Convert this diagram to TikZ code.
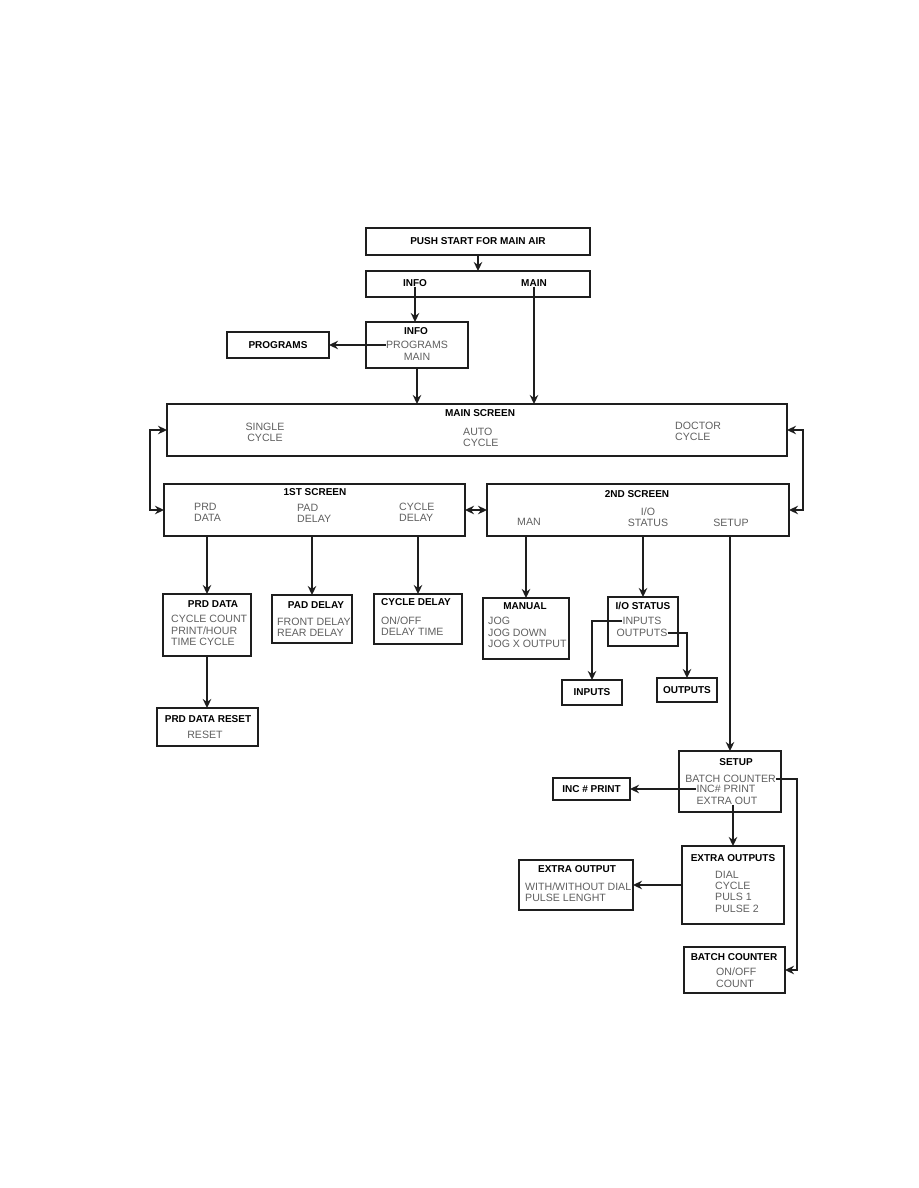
\documentclass[tikz,border=0pt]{standalone}
\usepackage{fontspec}
\setsansfont{Liberation Sans}
\usepackage{xcolor}
\usetikzlibrary{arrows.meta,positioning,calc}
\definecolor{boxline}{RGB}{30,30,30}
\definecolor{itemgray}{RGB}{95,95,95}

\tikzset{
  box/.style={rectangle, draw=boxline, line width=1.4pt, inner sep=0pt, outer sep=0pt},
  head/.style={font=\sffamily\bfseries, text=black, inner sep=0pt},
  item/.style={text=itemgray, inner sep=0pt, align=left},
  link/.style={-{Stealth[length=9pt,width=8.5pt]}, line width=1.4pt, draw=boxline},
  dlink/.style={{Stealth[length=9pt,width=8.5pt]}-{Stealth[length=9pt,width=8.5pt]}, line width=1.4pt, draw=boxline}
}

\begin{document}
\begin{tikzpicture}[x=1pt, y=-1pt, font=\sffamily\fontsize{10.6}{11.4}\selectfont]
        \useasboundingbox (0,0) rectangle (918,1188);

        % top: start and choice
        \node[box, head, minimum width=224, minimum height=27] (push) at (478,241.5) {PUSH START FOR MAIN AIR};
        \node[box, minimum width=224, minimum height=26] (choose) at (478,284) {};
        \node[head] (infolbl) at (415,283) {INFO};
        \node[head] (mainlbl) at (534,283) {MAIN};

        % info menu
        \node[box, minimum width=102, minimum height=46] (infobox) at (417,345) {};
        \node[head] (infotitle) at (416,331) {INFO};
        \node[item] (progitem) at (417,345) {PROGRAMS};
        \node[item] (mainitem) at (417,357) {MAIN};
        \node[box, head, minimum width=102, minimum height=26] (programs) at (278,345) {PROGRAMS};

        % main screen
        \node[box, minimum width=620, minimum height=52] (mainscr) at (477,430) {};
        \node[head] (maintitle) at (480,413) {MAIN SCREEN};
        \node[item, align=center] (single) at (265,432.5) {SINGLE\\CYCLE};
        \node[item, anchor=west] (auto) at (463,437.5) {AUTO\\CYCLE};
        \node[item, anchor=west] (doctor) at (675,431.5) {DOCTOR\\CYCLE};

        % 1st screen
        \node[box, minimum width=301, minimum height=52] (first) at (314.5,510) {};
        \node[head] (firsttitle) at (315,492) {1ST SCREEN};
        \node[item, anchor=west] (prdlbl) at (194,512.5) {PRD\\DATA};
        \node[item, anchor=west] (padlbl) at (297,513.5) {PAD\\DELAY};
        \node[item, anchor=west] (cyclbl) at (399,512) {CYCLE\\DELAY};

        % 2nd screen
        \node[box, minimum width=302, minimum height=52] (second) at (638,510) {};
        \node[head] (secondtitle) at (637,494) {2ND SCREEN};
        \node[item] (manlbl) at (529,522) {MAN};
        \node[item, align=center] (iolbl) at (648,517.5) {I/O\\STATUS};
        \node[item] (setuplbl) at (731,523) {SETUP};

        % 1st screen sub menus
        \node[box, minimum width=88, minimum height=62] (prdbox) at (207,625) {};
        \node[head] (prdtitle) at (213,604) {PRD DATA};
        \node[item, anchor=west] (prditems) at (171,630.5) {CYCLE COUNT\\PRINT/HOUR\\TIME CYCLE};
        \node[box, minimum width=80, minimum height=48] (padbox) at (312,619) {};
        \node[head] (padtitle) at (316,605) {PAD DELAY};
        \node[item, anchor=west] (paditems) at (277,627) {FRONT DELAY\\REAR DELAY};
        \node[box, minimum width=88, minimum height=50] (cycbox) at (418,619) {};
        \node[head] (cyctitle) at (416,602) {CYCLE DELAY};
        \node[item, anchor=west] (cycitems) at (381,626) {ON/OFF\\DELAY TIME};
        \node[box, minimum width=101, minimum height=38] (resetbox) at (207.5,727) {};
        \node[head] (resettitle) at (208,719) {PRD DATA RESET};
        \node[item] (resetitem) at (205,735) {RESET};

        % 2nd screen sub menus
        \node[box, minimum width=86, minimum height=61] (manbox) at (526,628.5) {};
        \node[head] (mantitle) at (525,606) {MANUAL};
        \node[item, anchor=west] (manitems) at (488,632.5) {JOG\\JOG DOWN\\JOG X OUTPUT};
        \node[box, minimum width=70, minimum height=49] (iobox) at (643,621.5) {};
        \node[head] (iotitle) at (643,606) {I/O STATUS};
        \node[item] (initem) at (642,621) {INPUTS};
        \node[item] (outitem) at (642,633) {OUTPUTS};
        \node[box, head, minimum width=60, minimum height=25] (inbox) at (592,692.5) {INPUTS};
        \node[box, head, minimum width=60, minimum height=24] (outbox) at (687,690) {OUTPUTS};

        % setup branch
        \node[box, minimum width=102, minimum height=61] (setupbox) at (730,781.5) {};
        \node[head] (setuptitle) at (736,762) {SETUP};
        \node[item] (batchitem) at (730.5,779) {BATCH COUNTER};
        \node[item] (incitem) at (726,789) {INC\# PRINT};
        \node[item] (xoutitem) at (727,801) {EXTRA OUT};
        \coordinate (batchturn) at (797,779);
        \node[box, head, minimum width=77, minimum height=22] (incbox) at (591.5,789) {INC \# PRINT};
        \node[box, minimum width=102, minimum height=78] (xoutsbox) at (733,885) {};
        \node[head] (xoutstitle) at (733,858) {EXTRA OUTPUTS};
        \node[item, anchor=west] (xoutsitems) at (715,891.5) {DIAL\\CYCLE\\PULS 1\\PULSE 2};
        \node[box, minimum width=114, minimum height=50] (xoutbox) at (576,885) {};
        \node[head] (xouttitle) at (577,869) {EXTRA OUTPUT};
        \node[item, anchor=west] (xoutitems) at (525,892.5) {WITH/WITHOUT DIAL\\PULSE LENGHT};
        \node[box, minimum width=101, minimum height=46] (batchbox) at (734.5,970) {};
        \node[head] (batchtitle) at (734,957) {BATCH COUNTER};
        \node[item, anchor=west] (batchitems) at (716,977.5) {ON/OFF\\COUNT};

        \draw[link] (push) -- (choose);
        \draw[link] (infolbl.south) -- (infolbl.south |- infobox.north);
        \draw[link] (mainlbl.south) -- (mainlbl.south |- mainscr.north);
        \draw[link] (progitem.west) -- (progitem.west -| programs.east);
        \draw[link] (infobox.south) -- (infobox.south |- mainscr.north);
        \draw[dlink] (mainscr.west) -- ++(-17,0) |- (first.west);
        \draw[dlink] (mainscr.east) -- ++(16,0) |- (second.east);
        \draw[dlink] (first.east) -- (first.east -| second.west);
        \draw[link] (first.south -| prdbox.north) -- (prdbox.north);
        \draw[link] (first.south -| padbox.north) -- (padbox.north);
        \draw[link] (first.south -| cycbox.north) -- (cycbox.north);
        \draw[link] (prdbox.south) -- (prdbox.south |- resetbox.north);
        \draw[link] (second.south -| manbox.north) -- (manbox.north);
        \draw[link] (second.south -| iobox.north) -- (iobox.north);
        \draw[link] (second.south -| setupbox.north) -- (setupbox.north);
        \draw[link] (initem.west) -| (inbox.north);
        \draw[link] (outitem.east) -| (outbox.north);
        \draw[link] (incitem.west) -- (incitem.west -| incbox.east);
        \draw[link] (batchitem.east) -- (batchturn) |- (batchbox.east);
        \draw[link] (xoutitem.south -| xoutsbox.north) -- (xoutsbox.north);
        \draw[link] (xoutsbox.west) -- (xoutbox.east);
      \end{tikzpicture}
\end{document}
